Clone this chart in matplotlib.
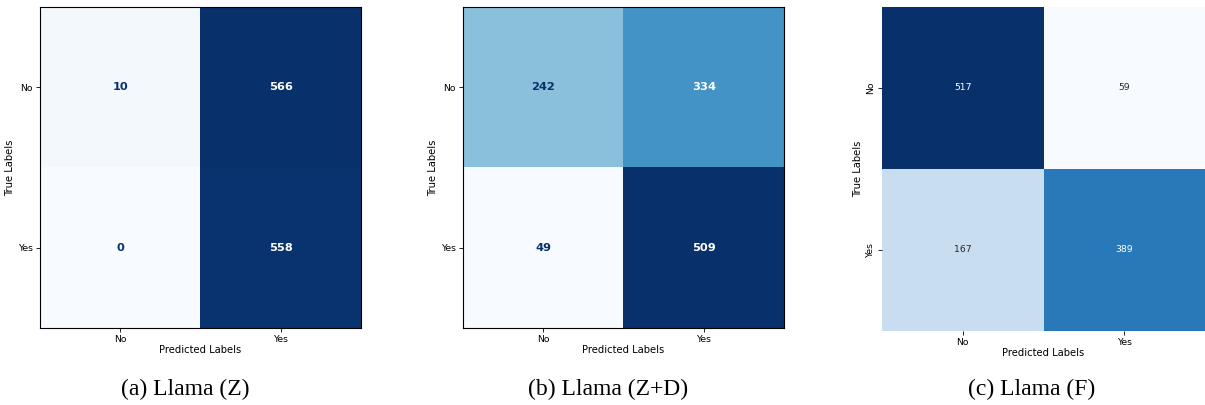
import matplotlib
matplotlib.use("Agg")
import matplotlib.pyplot as plt
import numpy as np
import seaborn as sns

LABELS = ["No", "Yes"]
CM_Z = [[10, 566], [0, 558]]
CM_ZD = [[242, 334], [49, 509]]
CM_F = [[517, 59], [167, 389]]
CAPTIONS = ["(a) Llama (Z)", "(b) Llama (Z+D)", "(c) Llama (F)"]

W, H = 1205, 405
fig = plt.figure(figsize=(W / 100, H / 100), dpi=100)


def box(left, top, right, bottom):
    return [left / W, 1 - bottom / H, (right - left) / W, (bottom - top) / H]


def sklearn_style(ax, cm):
    cm = np.array(cm)
    cmap = plt.get_cmap("Blues")
    ax.imshow(cm, cmap=cmap, aspect="auto")
    thresh = (cm.max() + cm.min()) / 2
    for i in range(2):
        for j in range(2):
            color = "white" if cm[i, j] > thresh else cmap(1.0)
            ax.text(j, i, str(cm[i, j]), ha="center", va="center",
                    color=color, fontsize=8.2, fontweight="bold")
    ax.set_xticks(range(2))
    ax.set_yticks(range(2))
    ax.set_xticklabels(LABELS, fontsize=6.7)
    ax.set_yticklabels(LABELS, fontsize=6.7)
    ax.tick_params(length=3, width=0.6, pad=2)
    ax.set_xlabel("Predicted Labels", fontsize=7.2, labelpad=1)
    ax.set_ylabel("True Labels", fontsize=7.2, labelpad=2)


ax1 = fig.add_axes(box(40, 7, 361, 328))
sklearn_style(ax1, CM_Z)

ax2 = fig.add_axes(box(463, 7, 784, 328))
sklearn_style(ax2, CM_ZD)

ax3 = fig.add_axes(box(882, 7, 1205, 331))
sns.heatmap(np.array(CM_F), annot=True, fmt="d", cmap="Blues", cbar=False,
            xticklabels=LABELS, yticklabels=LABELS, ax=ax3,
            annot_kws={"fontsize": 6.7})
ax3.set_xticklabels(LABELS, fontsize=6.7)
ax3.set_yticklabels(LABELS, fontsize=6.7, rotation=90, va="center")
ax3.tick_params(length=3, width=0.6, pad=2)
ax3.set_xlabel("Predicted Labels", fontsize=7.2, labelpad=1)
ax3.set_ylabel("True Labels", fontsize=7.2, labelpad=2)

for x, cap in zip([185, 608, 1032], CAPTIONS):
    fig.text(x / W, 1 - 389 / H, cap, ha="center", va="center",
             fontsize=17, family="Liberation Serif")

fig.savefig("out.png", dpi=100)
